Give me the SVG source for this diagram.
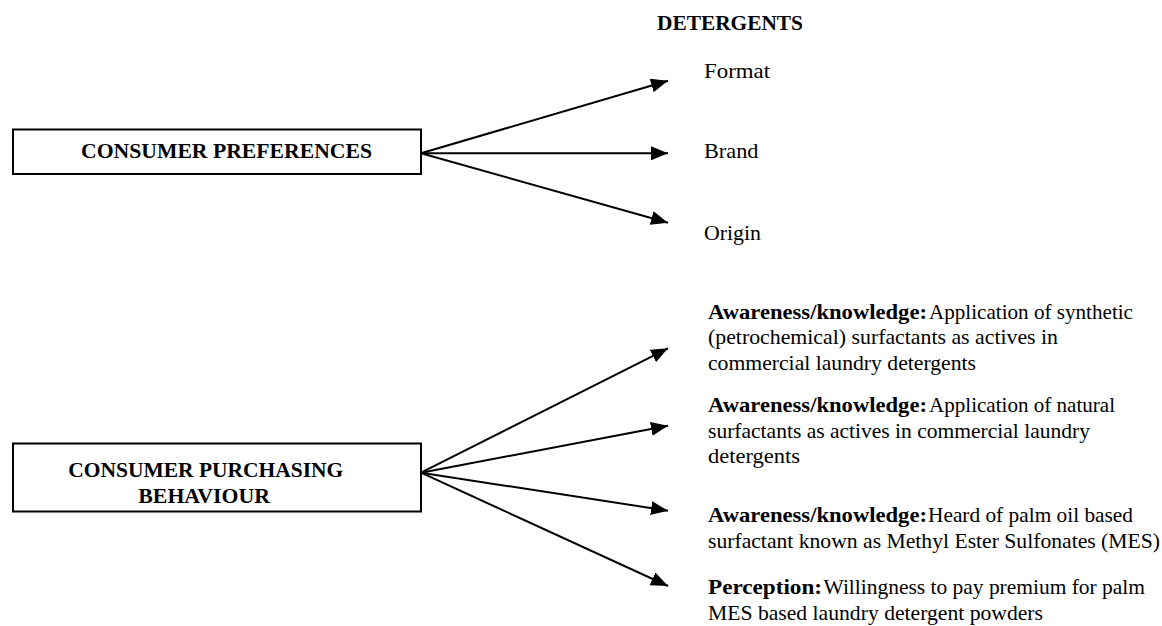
<svg xmlns="http://www.w3.org/2000/svg" width="1162" height="626" viewBox="0 0 1162 626" font-family="'Liberation Serif', 'Times New Roman', serif">
<style>
.box{fill:#fff;stroke:#000;stroke-width:2}
text{font-family:'Liberation Serif','Times New Roman',serif;font-size:21.5px;font-weight:normal;fill:#000}
.hd{font-weight:bold}
.b{font-weight:bold}
.con{stroke:#000;stroke-width:2;fill:none;marker-end:url(#ah)}
</style>
<defs>
<marker id="ah" markerUnits="userSpaceOnUse" markerWidth="17" markerHeight="14" refX="17" refY="7" orient="auto">
<path d="M0,0 L17,7 L0,14 Z" fill="#000"/>
</marker>
</defs>
<rect width="1162" height="626" fill="#fff"/>
<g id="title"><text class="hd" x="657" y="30" textLength="146" lengthAdjust="spacingAndGlyphs">DETERGENTS</text></g>
<g id="node-preferences">
<rect class="box" x="13" y="129.5" width="408" height="44.5"/>
<text class="hd" x="81" y="158.3" textLength="291" lengthAdjust="spacingAndGlyphs">CONSUMER PREFERENCES</text>
</g>
<g id="node-behaviour">
<rect class="box" x="13" y="443.5" width="408" height="68"/>
<text class="hd" x="68.3" y="476.7" textLength="275" lengthAdjust="spacingAndGlyphs">CONSUMER PURCHASING</text>
<text class="hd" x="138.3" y="503.3" textLength="131.7" lengthAdjust="spacingAndGlyphs">BEHAVIOUR</text>
</g>
<g id="node-format"><text class="tx" x="704" y="78.3" textLength="66" lengthAdjust="spacingAndGlyphs">Format</text></g>
<g id="node-brand"><text class="tx" x="704" y="158.3" textLength="54.5" lengthAdjust="spacingAndGlyphs">Brand</text></g>
<g id="node-origin"><text class="tx" x="704" y="240" textLength="57" lengthAdjust="spacingAndGlyphs">Origin</text></g>
<g id="node-aw1">
<text class="tx" y="318.5"><tspan class="b" x="708" textLength="219" lengthAdjust="spacingAndGlyphs">Awareness/knowledge:</tspan><tspan x="929" textLength="204" lengthAdjust="spacingAndGlyphs">Application of synthetic</tspan></text>
<text class="tx" x="708" y="344" textLength="350" lengthAdjust="spacingAndGlyphs">(petrochemical) surfactants as actives in</text>
<text class="tx" x="708" y="369.5" textLength="268" lengthAdjust="spacingAndGlyphs">commercial laundry detergents</text>
</g>
<g id="node-aw2">
<text class="tx" y="412"><tspan class="b" x="708" textLength="219" lengthAdjust="spacingAndGlyphs">Awareness/knowledge:</tspan><tspan x="929" textLength="186" lengthAdjust="spacingAndGlyphs">Application of natural</tspan></text>
<text class="tx" x="708" y="437.5" textLength="382" lengthAdjust="spacingAndGlyphs">surfactants as actives in commercial laundry</text>
<text class="tx" x="708" y="463" textLength="92" lengthAdjust="spacingAndGlyphs">detergents</text>
</g>
<g id="node-aw3">
<text class="tx" y="522"><tspan class="b" x="708" textLength="219" lengthAdjust="spacingAndGlyphs">Awareness/knowledge:</tspan><tspan x="928" textLength="205" lengthAdjust="spacingAndGlyphs">Heard of palm oil based</tspan></text>
<text class="tx" x="708" y="547.5" textLength="452" lengthAdjust="spacingAndGlyphs">surfactant known as Methyl Ester Sulfonates (MES)</text>
</g>
<g id="node-perception">
<text class="tx" y="594"><tspan class="b" x="708" textLength="114" lengthAdjust="spacingAndGlyphs">Perception:</tspan><tspan x="823.5" textLength="321.5" lengthAdjust="spacingAndGlyphs">Willingness to pay premium for palm</tspan></text>
<text class="tx" x="708" y="619.5" textLength="335" lengthAdjust="spacingAndGlyphs">MES based laundry detergent powders</text>
</g>
<g id="connectors">
<line class="con" x1="421" y1="153.3" x2="668" y2="80.7"/>
<line class="con" x1="421" y1="153.3" x2="668" y2="153.3"/>
<line class="con" x1="421" y1="153.3" x2="668" y2="222.7"/>
<line class="con" x1="421" y1="472.7" x2="668" y2="348.3"/>
<line class="con" x1="421" y1="472.7" x2="668" y2="425.7"/>
<line class="con" x1="421" y1="472.7" x2="668" y2="510.7"/>
<line class="con" x1="421" y1="472.7" x2="668" y2="586"/>
</g>
</svg>
